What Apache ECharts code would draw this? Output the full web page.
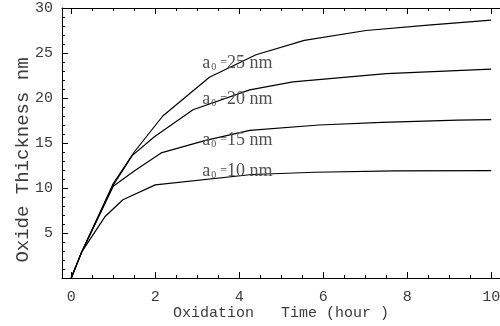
<!DOCTYPE html>
<html>
<head>
<meta charset="utf-8">
<script src="https://cdn.jsdelivr.net/npm/echarts@6/dist/echarts.min.js"></script>
<style>
	html, body { margin: 0; padding: 0; background: #fff; }
	#chart { width: 500px; height: 326px; }
</style>
</head>
<body>
<div id="chart"></div>
<script>
// oxide thickness (nm) against oxidation time (hour), one curve per a0
const curveNames = ["25", "20", "15", "10"];
const curveA25 = [[0, 0], [0.25, 2.9], [1.0, 10.5], [1.5, 14.0], [2.18, 18.0], [3.29, 22.3], [4.4, 24.8], [5.55, 26.4], [7.02, 27.5], [8.5, 28.1], [10, 28.65]];
const curveA20 = [[0, 0], [0.25, 2.9], [1.0, 10.3], [1.45, 13.6], [1.98, 15.7], [2.9, 18.7], [4.25, 20.9], [5.28, 21.8], [7.5, 22.7], [10, 23.2]];
const curveA15 = [[0, 0], [0.25, 2.9], [1.0, 10.2], [1.5, 11.9], [2.14, 13.9], [3.2, 15.3], [4.25, 16.4], [5.9, 17.0], [7.4, 17.3], [9.2, 17.55], [10, 17.6]];
const curveA10 = [[0, 0], [0.25, 2.9], [0.8, 6.8], [1.23, 8.7], [2.0, 10.35], [4.3, 11.5], [5.8, 11.75], [7.7, 11.9], [10, 11.92]];
const curves = [curveA25, curveA20, curveA15, curveA10];
// where each a0 label sits, in data units
const labelAnchors = [[3.12, 23.9], [3.12, 19.9], [3.12, 15.35], [3.12, 11.9]];

const xRange = [-0.22, 10.21];
const yRange = [0, 30];

const colors = {
	ink: "#000000",
	text: "#3c3c3c",
	label: "#505050"
};

const mono = "'Liberation Mono', 'DejaVu Sans Mono', monospace";
const serif = "'Liberation Serif', 'DejaVu Serif', serif";

const xAxisBase = {
	type: "value",
	min: xRange[0],
	max: xRange[1],
	splitNumber: 5,
	splitLine: { show: false },
	axisLine: { show: true, onZero: false, lineStyle: { color: colors.ink, width: 1 } },
	axisTick: { show: true, inside: true, length: 6, lineStyle: { color: colors.ink } },
	minorTick: { show: true, splitNumber: 4, length: 3, lineStyle: { color: colors.ink } }
};

const chart = echarts.init(document.getElementById("chart"), null, { renderer: "canvas" });

chart.setOption({
	animation: false,
	grid: { left: 62, right: 0, top: 8, bottom: 48, containLabel: false, outerBoundsMode: "none" },
	xAxis: [
		{
			...xAxisBase,
			position: "bottom",
			name: "Oxidation   Time (hour )",
			nameLocation: "middle",
			nameGap: 28,
			nameMoveOverlap: false,
			nameTextStyle: { fontFamily: mono, fontSize: 15, color: colors.text },
			axisLabel: { showMinLabel: false, showMaxLabel: false, margin: 12, fontFamily: mono, fontSize: 15, color: colors.text }
		},
		{
			...xAxisBase,
			position: "top",
			axisLabel: { show: false }
		}
	],
	yAxis: {
		type: "value",
		min: yRange[0],
		max: yRange[1],
		interval: 5,
		name: "Oxide Thickness nm",
		nameLocation: "middle",
		nameGap: 30,
		nameMoveOverlap: false,
		nameTextStyle: { fontFamily: mono, fontSize: 19, color: colors.text, padding: [0, 34, 0, 0] },
		splitLine: { show: false },
		axisLine: { show: true, onZero: false, lineStyle: { color: colors.ink, width: 1 } },
		axisTick: { show: true, inside: true, length: 6, lineStyle: { color: colors.ink } },
		minorTick: { show: true, splitNumber: 5, length: 3, lineStyle: { color: colors.ink } },
		axisLabel: { showMinLabel: false, margin: 9, fontFamily: mono, fontSize: 15, color: colors.text }
	},
	series: curves.map((data, i) => ({
		name: curveNames[i],
		type: "line",
		data,
		showSymbol: false,
		lineStyle: { color: colors.ink, width: 1.2 },
		markPoint: {
			symbol: "circle",
			symbolSize: 0,
			data: [{ coord: labelAnchors[i], value: curveNames[i] }],
			label: {
				show: true,
				position: "right",
				distance: 0,
				formatter: "{a|a}{s|0} ={v|" + curveNames[i] + " nm}",
				color: colors.label,
				fontFamily: serif,
				rich: {
					a: { fontFamily: serif, fontSize: 18, color: colors.label },
					s: { fontFamily: serif, fontSize: 10, color: colors.label, padding: [9, 1, 0, 1] },
					v: { fontFamily: serif, fontSize: 18, color: colors.label }
				}
			}
		}
	}))
});
</script>
</body>
</html>
